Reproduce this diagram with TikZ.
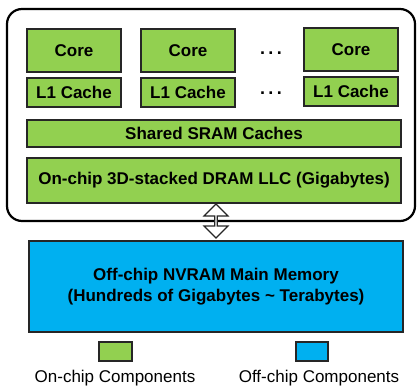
\documentclass[tikz,border=0pt]{standalone}
\usepackage{fontspec}
\setmainfont{Liberation Sans}
\usetikzlibrary{shapes.arrows}
\definecolor{chipgreen}{HTML}{92D050}
\definecolor{offblue}{HTML}{00B0F0}
\tikzset{
  gbox/.style={draw=black!85, line width=1.6pt, fill=chipgreen, inner sep=0pt, font=\bfseries\fontsize{17}{19}\selectfont},
  bbox/.style={draw=black!85, line width=1.6pt, fill=offblue, inner sep=0pt, align=center, font=\bfseries\fontsize{17}{21}\selectfont},
  legtext/.style={font=\fontsize{17}{19}\selectfont, inner sep=0pt},
}
\begin{document}
\begin{tikzpicture}[x=1pt,y=-1pt]
\useasboundingbox (0,0) rectangle (417,388);
\draw[line width=2.2pt, rounded corners=15pt, fill=white] (7,9) rectangle (415,221);
% cores
\node[gbox, minimum width=94pt, minimum height=43pt] (c1) at (74,50.5) {Core};
\node[gbox, minimum width=94pt, minimum height=43pt] (c2) at (188,50.5) {Core};
\node[gbox, minimum width=94pt, minimum height=43pt] (c3) at (351,49.5) {Core};
\node[gbox, minimum width=94pt, minimum height=29pt] (l1) at (74,92.5) {L1 Cache};
\node[gbox, minimum width=94pt, minimum height=29pt] (l2) at (188,92.5) {L1 Cache};
\node[gbox, minimum width=94pt, minimum height=29pt] (l3) at (351,91.5) {L1 Cache};
\node[font=\bfseries\fontsize{18}{19}\selectfont, inner sep=0pt, anchor=base] (d1) at (271,54) {.\hspace{3.5pt}.\hspace{3.5pt}.};
\node[font=\bfseries\fontsize{18}{19}\selectfont, inner sep=0pt, anchor=base] (d2) at (271,94) {.\hspace{3.5pt}.\hspace{3.5pt}.};
\node[gbox, minimum width=374pt, minimum height=27pt] (sram) at (214,133.5) {Shared SRAM Caches};
\node[gbox, minimum width=374pt, minimum height=45pt] (dram) at (214,180.5) {On-chip 3D-stacked DRAM LLC (Gigabytes)};
% double arrow
\node[double arrow, draw=black!85, fill=white, line width=1.2pt, shape border rotate=90,
  minimum width=24pt, double arrow head extend=5pt, double arrow head indent=0pt,
  minimum height=34pt, inner sep=0pt] (arr) at (216,221) {};
\node[bbox, minimum width=374pt, minimum height=91pt] (nv) at (216,286.5) {Off-chip NVRAM Main Memory\\(Hundreds of Gigabytes \textasciitilde{} Terabytes)};
% legend
\node[draw=black!85, line width=1.2pt, fill=chipgreen, minimum width=33pt, minimum height=19pt, inner sep=0pt] (lg) at (115.5,351.5) {};
\node[draw=black!85, line width=1.2pt, fill=offblue, minimum width=32pt, minimum height=19pt, inner sep=0pt] (lb) at (312,351.5) {};
\node[legtext] (lgt) at (115,378) {On-chip Components};
\node[legtext] (lbt) at (319,378) {Off-chip Components};
\end{tikzpicture}
\end{document}
